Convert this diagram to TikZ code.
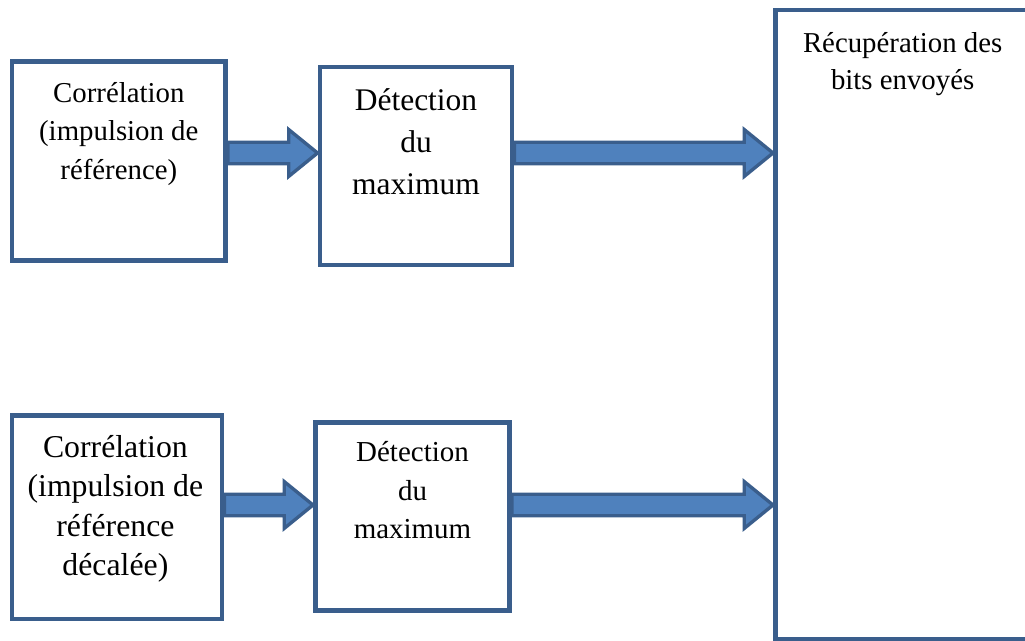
\documentclass[tikz,border=0pt]{standalone}
\usepackage{fontspec}
\setmainfont{Liberation Serif}
\usetikzlibrary{positioning,calc}

\definecolor{bordbleu}{HTML}{3A5E8C}
\definecolor{fondbleu}{HTML}{4F81BD}

% block arrow: #1 gives the tail x, #2 the tip
\newcommand{\fleche}[2]{%
  \draw[fl] let \p1=(#1), \p2=(#2) in
    (\x1,\y2+\ep) -- (\x2-\lt,\y2+\ep) -- (\x2-\lt,\y2+\lp) -- (\x2,\y2)
    -- (\x2-\lt,\y2-\lp) -- (\x2-\lt,\y2-\ep) -- (\x1,\y2-\ep) -- cycle;}

\begin{document}
\begin{tikzpicture}[
  bloc/.style={draw=bordbleu,line width=3.5pt,fill=white,inner sep=0pt},
  fl/.style={draw=bordbleu,fill=fondbleu,line width=2.4pt,line join=miter},
  txt/.style={align=center,anchor=base,inner sep=0pt}]
  \def\ep{0.27cm}\def\lp{0.585cm}\def\lt{0.72cm}
  \useasboundingbox (0,0) rectangle (25.625,16.025);
  \coordinate (ligneA) at (0,12.2);
  \coordinate (ligneB) at (0,3.4);

  % upper row
  \node[bloc,minimum width=5.34cm,minimum height=4.98cm] (correl1) at (2.97,12.0) {};
  \node[bloc,minimum width=4.8cm,minimum height=4.95cm] (detect1) at (10.4,11.875) {};
  % lower row
  \node[bloc,minimum width=5.25cm,minimum height=5.09cm] (correl2) at (2.925,3.094) {};
  \node[bloc,minimum width=4.85cm,minimum height=4.7cm] (detect2) at (10.3125,3.1125) {};
  % decision box, runs off the page on the right
  \node[bloc,minimum width=6.8cm,minimum height=15.745cm] (recup) at (22.7875,7.9025) {};

  % labels, placed by the baseline of their last line
  \node[txt,font=\fontsize{20.5}{27.5}\selectfont] (tc1)
    at ($(correl1.north)+(0,-3.01)$) {Corrélation\\(impulsion de\\référence)};
  \node[txt,font=\fontsize{22.4}{29.8}\selectfont] (td1)
    at ($(detect1.north)+(0,-3.245)$) {Détection\\du\\maximum};
  \node[txt,font=\fontsize{22.6}{28}\selectfont] (tc2)
    at ($(correl2.north)+(-0.04,-4.06)$) {Corrélation\\(impulsion de\\référence\\décalée)};
  \node[txt,font=\fontsize{20.6}{27.3}\selectfont] (td2)
    at ($(detect2.north)+(0,-2.96)$) {Détection\\du\\maximum};
  \node[txt,font=\fontsize{20.5}{26.2}\selectfont] (tr)
    at ($(recup.north west)+(3.24,-2.05)$) {Récupération des\\bits envoyés};

  \fleche{correl1.east}{detect1.west |- ligneA}
  \fleche{detect1.east}{recup.west |- ligneA}
  \fleche{correl2.east}{detect2.west |- ligneB}
  \fleche{detect2.east}{recup.west |- ligneB}
\end{tikzpicture}
\end{document}
